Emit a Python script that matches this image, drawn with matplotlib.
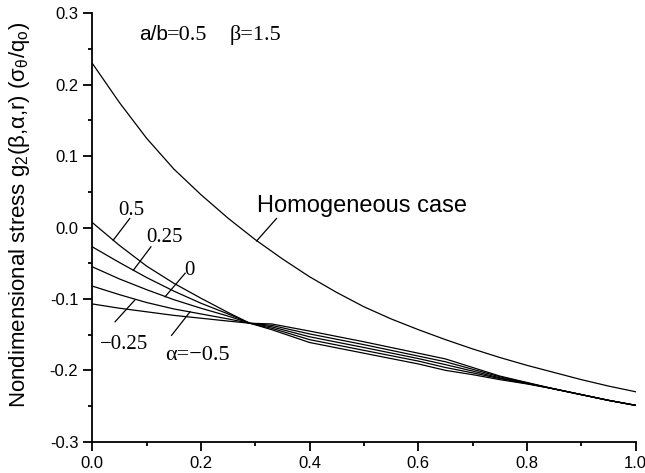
import numpy as np
import matplotlib.pyplot as plt
from matplotlib.ticker import MultipleLocator

plt.rcParams['font.family'] = 'Liberation Sans'
plt.rcParams['mathtext.fontset'] = 'custom'
plt.rcParams['mathtext.rm'] = 'Liberation Sans'
plt.rcParams['mathtext.it'] = 'Liberation Sans'

# homogeneous case
x_hom = [0.0, 0.05, 0.1, 0.15, 0.2, 0.25, 0.3, 0.35, 0.4, 0.45, 0.5,
         0.55, 0.6, 0.65, 0.7, 0.75, 0.8, 0.85, 0.9, 0.95, 1.0]
g_hom = [0.230, 0.175, 0.125, 0.082, 0.046, 0.013, -0.017, -0.044, -0.069, -0.091, -0.111,
         -0.128, -0.143, -0.157, -0.170, -0.182, -0.193, -0.203, -0.213, -0.222, -0.230]

# graded cases, one curve per alpha
x_fgm = [0.0, 0.05, 0.1, 0.15, 0.2, 0.25, 0.29, 0.33, 0.4, 0.5,
         0.6, 0.65, 0.7, 0.75, 0.8, 0.85, 0.9, 0.95, 1.0]
g_a050 = [0.007, -0.025, -0.054, -0.078, -0.099, -0.119, -0.134, -0.143, -0.161, -0.176,
          -0.191, -0.200, -0.206, -0.213, -0.219, -0.226, -0.234, -0.242, -0.249]
g_a025 = [-0.027, -0.049, -0.070, -0.089, -0.106, -0.121, -0.134, -0.141, -0.157, -0.172,
          -0.187, -0.196, -0.2035, -0.2115, -0.2185, -0.226, -0.234, -0.242, -0.249]
g_a000 = [-0.055, -0.072, -0.087, -0.101, -0.113, -0.124, -0.134, -0.139, -0.153, -0.168,
          -0.1835, -0.192, -0.201, -0.2105, -0.218, -0.226, -0.234, -0.242, -0.249]
g_am025 = [-0.082, -0.094, -0.105, -0.114, -0.121, -0.128, -0.134, -0.137, -0.149, -0.164,
           -0.180, -0.188, -0.1985, -0.209, -0.2175, -0.226, -0.234, -0.242, -0.249]
g_am050 = [-0.107, -0.113, -0.118, -0.123, -0.127, -0.131, -0.134, -0.135, -0.145, -0.160,
           -0.176, -0.184, -0.196, -0.208, -0.217, -0.226, -0.234, -0.242, -0.249]

fig = plt.figure(figsize=(6.45, 4.73), dpi=100)
ax = fig.add_axes([0.143, 0.066, 0.8426, 0.906])

lw = 0.9
ax.plot(x_hom, g_hom, c='k', lw=lw)
for g in [g_a050, g_a025, g_a000, g_am025, g_am050]:
    ax.plot(x_fgm, g, c='k', lw=lw)

ax.set_xlim(0, 1.0)
ax.set_ylim(-0.3, 0.3)
ax.spines['top'].set_visible(False)
ax.spines['right'].set_visible(False)
ax.spines['left'].set_linewidth(1.3)
ax.spines['bottom'].set_linewidth(1.3)
ax.xaxis.set_major_locator(MultipleLocator(0.2))
ax.xaxis.set_minor_locator(MultipleLocator(0.1))
ax.yaxis.set_major_locator(MultipleLocator(0.1))
ax.yaxis.set_minor_locator(MultipleLocator(0.05))
ax.tick_params(which='major', direction='out', length=6.5, width=1.3, labelsize=12)
ax.tick_params(which='minor', direction='out', length=3, width=1.3)
ax.xaxis.set_major_formatter(plt.FuncFormatter(lambda v, p: '%.1f' % v))
ax.yaxis.set_major_formatter(plt.FuncFormatter(lambda v, p: '%.1f' % v))

ax.set_ylabel('Nondimensional stress g$_2$(β,α,r) (σ$_θ$/q$_o$)', fontsize=16)
ax.yaxis.set_label_coords(-0.11, 0.53)

serif = 'Liberation Serif'
ax.text(0.0865, 0.262, 'a/b', fontsize=15)
ax.text(0.138, 0.262, '=0.5', fontsize=16, family=serif)
ax.text(0.253, 0.262, 'β=1.5', fontsize=16, family=serif)

# curve labels with leader lines
ax.text(0.3025, 0.022, 'Homogeneous case', fontsize=17)
ax.plot([0.339, 0.3025], [0.0126, -0.0188], c='k', lw=lw)

ax.text(0.048, 0.017, '0.5', fontsize=15, family=serif)
ax.plot([0.069, 0.0386], [0.0126, -0.0178], c='k', lw=lw)
ax.text(0.100, -0.020, '0.25', fontsize=15, family=serif)
ax.plot([0.108, 0.0755], [-0.027, -0.060], c='k', lw=lw)
ax.text(0.169, -0.067, '0', fontsize=15, family=serif)
ax.plot([0.171, 0.134], [-0.064, -0.097], c='k', lw=lw)
ax.text(0.014, -0.170, '\u22120.25', fontsize=15, family=serif)
ax.plot([0.042, 0.079], [-0.132, -0.101], c='k', lw=lw)
ax.text(0.134, -0.186, 'α=\u22120.5', fontsize=16, family=serif)
ax.plot([0.146, 0.180], [-0.151, -0.118], c='k', lw=lw)

fig.savefig('out.png', dpi=100)
